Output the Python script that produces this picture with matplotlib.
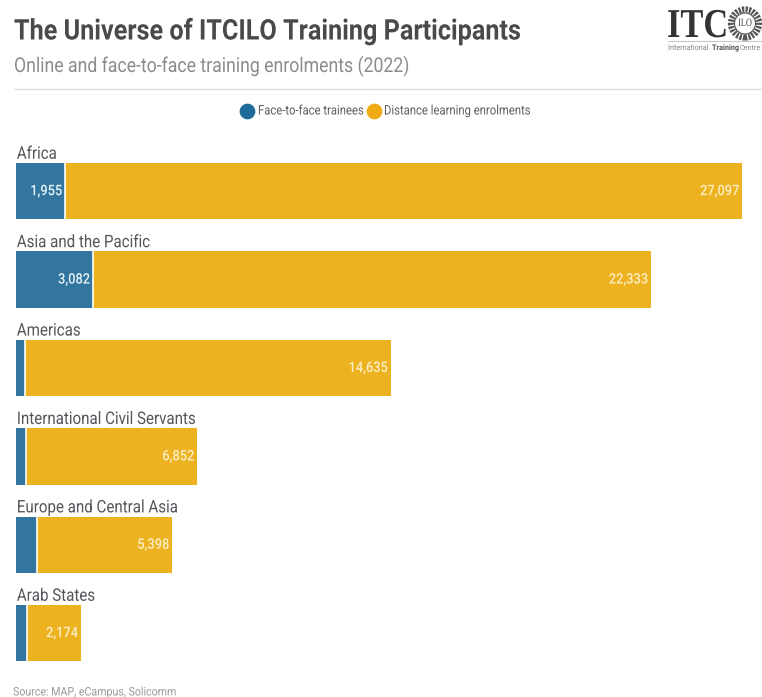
"""
The Universe of ITCILO Training Participants - stacked horizontal bars.
"""
import matplotlib
matplotlib.use('Agg')
import matplotlib.pyplot as plt
from matplotlib.lines import Line2D
from matplotlib.patches import Ellipse
from matplotlib.patheffects import AbstractPathEffect
from matplotlib.transforms import Affine2D

regions = ['Africa', 'Asia and the Pacific', 'Americas', 'International Civil Servants',
           'Europe and Central Asia', 'Arab States']
face_to_face = [1955, 3082, 350, 400, 850, 420]
distance = [27097, 22333, 14635, 6852, 5398, 2174]

BLUE = '#32759f'
YELLOW = '#edb220'
W, H = 762, 697

plt.rcParams['font.family'] = ['Roboto', 'DejaVu Sans']


class Condense(AbstractPathEffect):
    """Squeezes text horizontally, the original font is Roboto Condensed."""

    def __init__(self, k=0.88, anchor='left'):
        super().__init__()
        self.k = k
        self.anchor = anchor

    def draw_path(self, renderer, gc, tpath, affine, rgbFace=None):
        box = tpath.get_extents()
        x0 = {'left': 0, 'right': box.x1, 'center': (box.x0 + box.x1) / 2}[self.anchor]
        squeeze = Affine2D().translate(-x0, 0).scale(self.k, 1).translate(x0, 0)
        renderer.draw_path(gc, tpath, squeeze + affine, rgbFace)


def fx(px):
    return px / W


def fy(px):
    return 1 - px / H


fig = plt.figure(figsize=(W / 100, H / 100), dpi=100, facecolor='white')

# --- Header ---
fig.text(fx(14), fy(39.5), 'The Universe of ITCILO Training Participants', fontsize=20.5,
         fontweight='bold', color='#4a4a4a', va='baseline', path_effects=[Condense(0.885)])
fig.text(fx(14), fy(72), 'Online and face-to-face training enrolments (2022)', fontsize=14.7,
         color='#8c8c8c', va='baseline', path_effects=[Condense(0.865)])
fig.add_artist(Line2D([fx(14), 1], [fy(89), fy(89)], color='#dfdfdf', lw=1))

# --- Logo ---
fig.text(fx(667), fy(37), 'ITC', fontsize=29.5, family='Liberation Serif', fontweight='bold',
         color='#333333', va='baseline', path_effects=[Condense(0.84)])
fig.add_artist(Line2D([fx(668), 1], [fy(41), fy(41)], color='#c8c8c8', lw=0.8))
fig.text(fx(668), fy(50), 'International', fontsize=5.6, color='#8a8a8a', va='baseline',
         path_effects=[Condense(0.93)])
fig.text(fx(712), fy(50), 'Training', fontsize=5.6, color='#555555', fontweight='bold',
         va='baseline', path_effects=[Condense(0.93)])
fig.text(fx(740), fy(50), 'Centre', fontsize=5.2, color='#8a8a8a', va='baseline')
rx, ry = 14 / W, 14 / H
fig.add_artist(Ellipse((fx(745), fy(23.5)), 2 * rx, 2 * ry, fc='none', ec='#555555', lw=4.5,
                       linestyle=(0, (0.35, 0.2))))
fig.add_artist(Ellipse((fx(745), fy(23.5)), 1.5 * rx, 1.5 * ry, fc='white', ec='#555555', lw=0.8))
fig.text(fx(745), fy(23.5), 'ILO', fontsize=8, family='Liberation Serif', color='#444444',
         ha='center', va='center', path_effects=[Condense(0.75, 'center')])

# --- Bars ---
ax = fig.add_axes([fx(16), fy(677.4), 1 - fx(16), (677.4 - 147) / H])
y = list(range(len(regions)))
ax.barh(y, face_to_face, height=0.64, color=BLUE, linewidth=0)
ax.barh(y, distance, left=face_to_face, height=0.64, color=YELLOW, linewidth=0)
for i, split in enumerate(face_to_face):
    ax.vlines(split, i - 0.32, i + 0.32, color='white', lw=1.2)
ax.set_xlim(0, 29840)
ax.set_ylim(5.5, -0.5)
ax.axis('off')

for i, name in enumerate(regions):
    ax.annotate(name, (0, i - 0.32), xytext=(0.6, 0.8), textcoords='offset points', fontsize=12.5,
                color='#55555b', va='bottom', ha='left', annotation_clip=False,
                path_effects=[Condense(0.87)])
    # blue labels only where the segment is wide enough
    if face_to_face[i] > 1000:
        ax.annotate(f'{face_to_face[i]:,}', (face_to_face[i], i), xytext=(-2, 0),
                    textcoords='offset points', fontsize=10.5, fontweight='medium',
                    color='#e6f2f5', ha='right', va='center',
                    path_effects=[Condense(0.88, 'right')])
    ax.annotate(f'{distance[i]:,}', (face_to_face[i] + distance[i], i), xytext=(-2, 0),
                textcoords='offset points', fontsize=10.5, fontweight='medium', color='#fbeec4',
                ha='right', va='center', path_effects=[Condense(0.88, 'right')])

# --- Legend ---
fig.add_artist(Line2D([fx(247.5)], [fy(111)], ls='none', marker='o', ms=10.3, color='#1f6a9b'))
fig.add_artist(Line2D([fx(374)], [fy(111)], ls='none', marker='o', ms=10.3, color='#f0aa14'))
fig.text(fx(258), fy(111), 'Face-to-face trainees', fontsize=9.5, color='#5f5f63', va='center',
         path_effects=[Condense(0.855)])
fig.text(fx(384), fy(111), 'Distance learning enrolments', fontsize=9.5, color='#5f5f63',
         va='center', path_effects=[Condense(0.855)])

fig.text(fx(13), fy(692), 'Source: MAP, eCampus, Solicomm', fontsize=8.5, color='#9a9a9a',
         va='center', path_effects=[Condense(0.9)])

fig.savefig('out.png', dpi=100)
